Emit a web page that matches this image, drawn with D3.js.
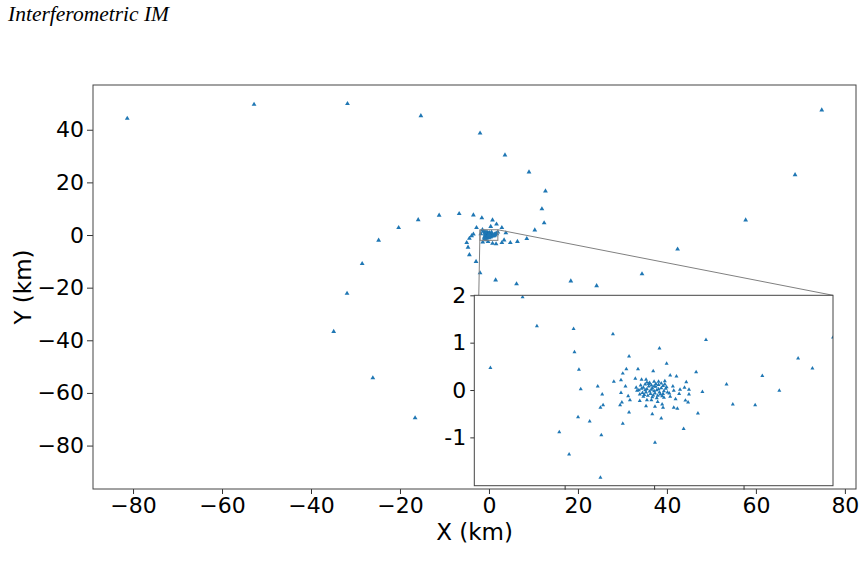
<!DOCTYPE html>
<html><head><meta charset="utf-8">
<script src="https://cdn.jsdelivr.net/npm/d3@7"></script>
<style>body{margin:0;background:#fff}svg{display:block}</style>
</head><body>
<script>
// ---- data (km) ----
const outerX = [-81.3,-52.8,-31.8,-15.3,-2.0,3.6,9.0,12.7,11.9,12.4,10.3,8.5,6.4,4.8,2.9,3.4,3.8,2.9,1.7,0.8,0.4,-1.6,-3.5,-6.7,-11.2,-15.9,-20.3,-24.8,-28.5,-31.9,-34.9,-26.1,-16.6,-2.8,-3.5,-3.9,-4.4,-5.0,-4.7,-4.4,-2.9,-2.0,1.5,6.2,18.4,24.2,34.4,42.4,57.7,68.8,74.8,-1.4,-0.2,0.8,1.6];
const outerY = [44.3,49.6,49.9,45.3,38.7,30.4,23.9,16.7,9.9,4.6,1.9,-1.4,-2.5,-2.9,-2.9,-1.9,0.8,2.8,4.1,5.7,3.2,6.5,7.6,8.1,7.5,5.8,2.8,-2.0,-10.9,-22.2,-36.7,-54.3,-69.5,2.8,0.3,-0.3,-1.3,-2.9,-4.7,-7.5,-10.1,-14.4,-17.1,-18.6,-17.5,-19.3,-14.8,-5.4,5.7,22.9,47.5,-2.7,-2.5,-3.2,-3.4];
const coreX = [-1.47,-1.31,-0.90,-0.46,-0.89,-0.28,-1.83,-0.84,-0.31,-0.35,-0.18,-0.01,0.06,0.14,0.18,0.25,0.47,0.58,-0.21,-0.37,-0.45,-0.63,-0.82,-0.58,-0.32,-0.37,-0.29,-0.27,-0.36,-0.38,-0.57,-0.60,-0.28,-0.85,-0.72,-0.35,-1.06,-0.59,0.01,-0.95,-0.60,-0.02,0.08,0.36,0.21,0.29,0.34,0.39,0.54,0.22,0.17,0.28,0.39,0.11,0.18,0.24,0.35,0.38,0.04,0.09,-0.09,0.01,0.10,0.22,0.26,-0.16,-0.08,-0.03,0.49,0.33,0.81,0.88,1.13,1.21,1.40,1.61,1.77,2.00,-0.20,-0.19,-0.14,-0.09,0.00,0.05,0.12,-0.06,
  -0.15,-0.12,-0.10,-0.08,-0.06,-0.05,-0.03,-0.02,0.00,0.02,0.03,0.05,0.06,0.08,0.10,0.11,0.13,-0.13,-0.11,-0.09,-0.07,-0.04,-0.01,0.01,0.04,0.07,0.09,-0.17,-0.16,0.12,0.15,-0.05,0.00,-0.10,0.05,-0.02,0.03,-0.08,0.08,-0.14,0.14,-0.12,0.10,-0.03,0.02];
const coreY = [1.96,1.35,1.29,1.18,0.80,0.71,0.47,0.43,0.44,0.35,0.44,0.40,0.88,0.56,0.31,0.29,0.38,1.06,0.24,0.21,0.18,0.08,0.02,-0.09,0.08,-0.06,-0.13,-0.21,-0.26,-0.32,-0.32,-0.37,-0.47,-0.57,-0.66,-0.71,-0.89,-0.95,-1.11,-1.36,-1.85,-0.51,-0.60,0.17,0.08,0.01,0.05,0.01,-0.04,-0.01,-0.07,-0.08,-0.09,-0.16,-0.14,-0.19,-0.22,-0.26,-0.25,-0.30,-0.34,-0.35,-0.37,-0.37,-0.39,-0.23,-0.21,-0.21,-0.49,-0.82,0.12,-0.30,-0.32,0.30,-0.01,0.67,0.46,1.11,0.05,-0.01,0.22,0.22,0.18,0.18,0.19,0.13,
  0.10,0.05,0.12,0.02,0.08,-0.03,0.10,0.04,-0.02,0.07,0.00,0.11,-0.05,0.04,0.09,-0.02,0.03,-0.06,-0.10,-0.05,-0.12,-0.08,-0.11,-0.07,-0.12,-0.09,-0.13,0.00,-0.09,0.12,-0.05,0.15,0.08,0.00,0.02,-0.15,-0.17,0.16,0.14,0.03,0.06,-0.14,-0.08,0.01,0.13];
const xTicks = [-80,-60,-40,-20,0,20,40,60,80];
const yTicks = [40,20,0,-20,-40,-60,-80];
const insetXTicks = [-1,0,1];
const insetYTicks = [2,1,0,-1];
const title = "Interferometric IM";
const xLabel = "X (km)", yLabel = "Y (km)";

const W = 864, H = 574;
const blue = "#1f77b4";
const svg = d3.select("body").append("svg").attr("width", W).attr("height", H);

// main axes
const M = {l:93, r:856, t:85, b:489};
const x = d3.scaleLinear().domain([-89.0, 82.5]).range([M.l, M.r]);
const y = d3.scaleLinear().domain([-96.5, 57]).range([M.b, M.t]);

svg.append("text").attr("x", 8).attr("y", 21)
  .attr("font-family", "Liberation Serif, Times New Roman, serif").attr("font-style","italic")
  .attr("font-size", 21.5).attr("fill","#000").text(title);

const font = "DejaVu Sans, sans-serif";
const minus = v => String(v).replace("-", "\u2212");

const gx = svg.append("g").attr("transform", `translate(0,${M.b})`)
  .call(d3.axisBottom(x).tickValues(xTicks).tickSize(5).tickPadding(3).tickFormat(minus));
const gy = svg.append("g").attr("transform", `translate(${M.l},0)`)
  .call(d3.axisLeft(y).tickValues(yTicks).tickSize(6).tickPadding(3).tickFormat(minus));
[gx, gy].forEach(g => {
  g.select(".domain").remove();
  g.selectAll("line").attr("stroke","#333");
  g.selectAll("text").attr("font-family", font).attr("font-size", 22).attr("fill","#000");
});

svg.append("rect").attr("x", M.l).attr("y", M.t).attr("width", M.r-M.l).attr("height", M.b-M.t)
  .attr("fill","none").attr("stroke","#444").attr("stroke-width",1);

svg.append("text").attr("x", (M.l+M.r)/2).attr("y", 540).attr("text-anchor","middle")
  .attr("font-family", font).attr("font-size", 23).text(xLabel);
svg.append("text").attr("transform", `translate(31,${(M.t+M.b)/2}) rotate(-90)`).attr("text-anchor","middle")
  .attr("font-family", font).attr("font-size", 23).text(yLabel);

const tri = d3.symbol().type(d3.symbolTriangle);
svg.append("g").selectAll("path").data(d3.range(outerX.length)).join("path")
  .attr("d", tri.size(10)())
  .attr("transform", i => `translate(${x(outerX[i])},${y(outerY[i])})`).attr("fill", blue);
svg.append("g").selectAll("path").data(d3.range(coreX.length)).join("path")
  .attr("d", tri.size(10)())
  .attr("transform", i => `translate(${x(coreX[i])},${y(coreY[i])})`).attr("fill", blue);

// inset axes
const I = {l:474.3, r:833, t:295.3, b:485.7};
const ix = d3.scaleLinear().domain([-2.01, 2.0]).range([I.l, I.r]);
const iy = d3.scaleLinear().domain([-2.02, 2.0]).range([I.b, I.t]);

// zoom rectangle + connectors
const rx0 = x(ix.domain()[0]), rx1 = x(ix.domain()[1]);
const ry0 = y(iy.domain()[1]), ry1 = y(iy.domain()[0]);
svg.append("rect").attr("x", rx0).attr("y", ry0).attr("width", rx1-rx0).attr("height", ry1-ry0)
  .attr("fill","none").attr("stroke","#808080").attr("stroke-width",1);
svg.append("line").attr("x1", rx0).attr("y1", ry0).attr("x2", ix(-1.96)).attr("y2", I.t)
  .attr("stroke","#808080").attr("stroke-width",1);
svg.append("line").attr("x1", rx1).attr("y1", ry0).attr("x2", I.r).attr("y2", I.t)
  .attr("stroke","#808080").attr("stroke-width",1);

svg.append("rect").attr("x", I.l).attr("y", I.t).attr("width", I.r-I.l).attr("height", I.b-I.t)
  .attr("fill","#fff");
svg.append("clipPath").attr("id","ic").append("rect")
  .attr("x", I.l).attr("y", I.t).attr("width", I.r-I.l).attr("height", I.b-I.t);
svg.append("g").attr("clip-path","url(#ic)").selectAll("path").data(d3.range(coreX.length)).join("path")
  .attr("d", tri.size(7)())
  .attr("transform", i => `translate(${ix(coreX[i])},${iy(coreY[i])})`).attr("fill", blue);

const igx = svg.append("g").attr("transform", `translate(0,${I.b})`)
  .call(d3.axisBottom(ix).tickValues(insetXTicks).tickSize(4).tickFormat(""));
const igy = svg.append("g").attr("transform", `translate(${I.l},0)`)
  .call(d3.axisLeft(iy).tickValues(insetYTicks).tickSize(4).tickPadding(4).tickFormat(d => String(d)));
[igx, igy].forEach(g => {
  g.select(".domain").remove();
  g.selectAll("line").attr("stroke","#333");
  g.selectAll("text").attr("font-family", font).attr("font-size", 22).attr("fill","#000");
});
svg.append("rect").attr("x", I.l).attr("y", I.t).attr("width", I.r-I.l).attr("height", I.b-I.t)
  .attr("fill","none").attr("stroke","#444").attr("stroke-width",1);
</script>
</body></html>
